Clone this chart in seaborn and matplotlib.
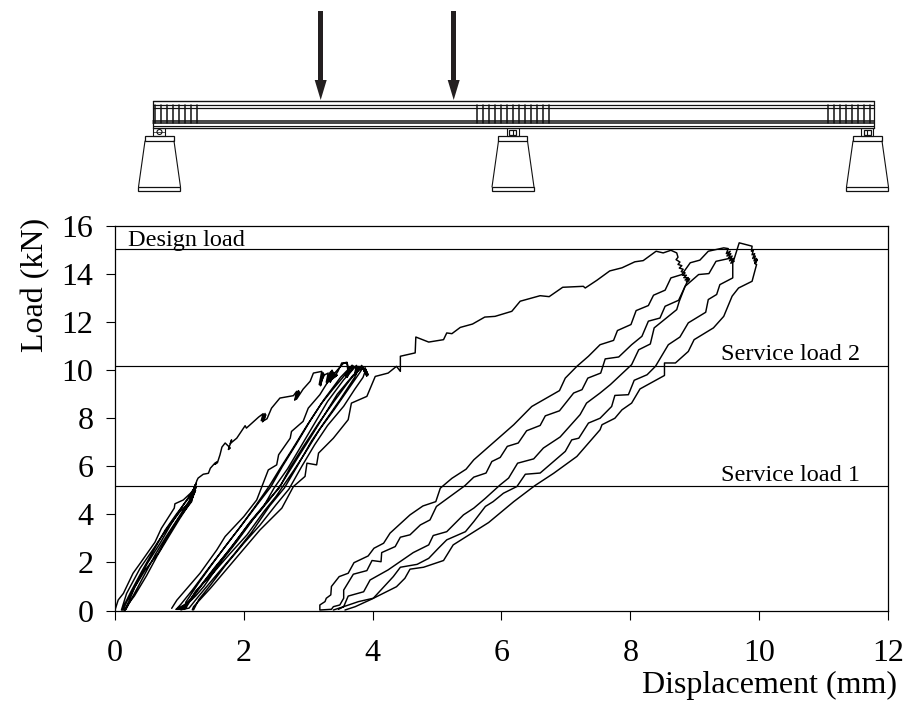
import pandas as pd
import seaborn as sns
import matplotlib.pyplot as plt
from matplotlib.patches import Polygon, Rectangle, Circle

# first cycles up to service load 1, then the ramp to service load 2
cycle1_x = [0.00, 0.05, 0.13, 0.28, 0.39, 0.62, 0.72, 0.92, 0.93, 1.06, 1.18, 1.22, 1.19, 1.24, 1.21, 1.26, 1.20, 1.25, 1.19,
            1.01, 0.83, 0.67, 0.62, 0.44, 0.39, 0.18, 0.10,
            0.16, 0.31, 0.47, 0.67, 0.83, 1.01, 1.19, 1.23, 1.18, 1.24,
            1.05, 0.86, 0.70, 0.50, 0.33, 0.19, 0.13,
            0.12, 0.25, 0.42, 0.60, 0.78, 0.95, 1.12, 1.20, 1.24, 1.19, 1.26,
            1.17, 1.00, 0.84, 0.66, 0.49, 0.30, 0.20, 0.15,
            0.17, 0.28, 0.45, 0.63, 0.80, 0.98, 1.15, 1.22, 1.18, 1.25, 1.21, 1.27]
cycle1_y = [0.02, 0.44, 0.71, 1.55, 1.96, 2.84, 3.42, 4.26, 4.44, 4.60, 4.90, 5.05, 4.75, 5.10, 4.80, 5.15, 4.70, 5.00, 4.60,
            4.12, 3.49, 2.87, 2.66, 1.96, 1.76, 0.71, 0.02,
            0.02, 0.99, 1.69, 2.38, 3.15, 3.91, 4.53, 5.00, 4.65, 5.10,
            4.35, 3.55, 2.80, 1.95, 1.10, 0.40, 0.05,
            0.10, 0.80, 1.65, 2.50, 3.35, 4.00, 4.60, 4.85, 5.20, 4.80, 5.30,
            4.50, 3.80, 3.10, 2.30, 1.45, 0.60, 0.25, 0.03,
            0.05, 0.60, 1.45, 2.35, 3.10, 3.85, 4.55, 5.00, 4.70, 5.25, 4.85, 5.40]
ramp1_x = [1.29, 1.37, 1.45, 1.48, 1.55, 1.58, 1.55, 1.59, 1.63, 1.66, 1.71, 1.79, 1.76, 1.81, 1.79, 1.89, 2.02, 2.04, 2.23, 2.30, 2.27,
           2.33, 2.29, 2.34, 2.31, 2.36, 2.43, 2.56, 2.77, 2.82, 2.79, 2.85, 2.80, 2.86, 2.82, 2.92, 3.03, 3.08, 3.21, 3.17, 3.23, 3.19, 3.24,
           3.18, 3.25, 3.31, 3.28, 3.35, 3.29, 3.37, 3.30, 3.38, 3.33, 3.40, 3.34, 3.41, 3.36, 3.45, 3.40, 3.46, 3.52, 3.60, 3.62, 3.58, 3.64, 3.60,
           3.65, 3.61, 3.63]
ramp1_y = [5.51, 5.67, 5.71, 5.92, 6.13, 6.18, 6.08, 6.15, 6.48, 6.80, 6.97, 6.76, 6.70, 7.10, 6.95, 7.17, 7.69, 7.59, 8.05, 8.19, 7.90,
           8.20, 7.85, 8.15, 7.90, 7.98, 8.42, 8.84, 8.94, 9.12, 8.75, 9.15, 8.78, 9.10, 8.80, 9.21, 9.54, 9.88, 9.95, 9.40, 9.90, 9.35, 9.85,
           9.40, 9.80, 9.88, 9.50, 9.95, 9.45, 10.00, 9.50, 9.95, 9.55, 9.90, 9.50, 9.85, 9.60, 9.80, 9.70, 9.95, 10.30, 10.30, 9.88, 9.75, 10.00, 9.70,
           9.95, 9.75, 10.05]

# reloading group between 1 and 4 mm
cycle2_a_x = [3.60, 3.55, 3.34, 3.18, 3.00, 2.92, 2.74, 2.72, 2.54, 2.51, 2.38, 2.28, 2.20, 2.00, 1.71, 1.58, 1.32, 0.96, 0.88]
cycle2_a_y = [10.33, 10.30, 9.67, 8.98, 8.42, 7.87, 7.45, 7.17, 6.48, 6.06, 5.85, 5.16, 4.60, 3.91, 3.08, 2.52, 1.55, 0.43, 0.09]
cycle2_b_x = [0.95, 1.12, 1.35, 1.55, 1.80, 2.05, 2.30, 2.47, 2.68, 2.88, 3.10, 3.30, 3.55, 3.75, 3.72, 3.78, 3.73, 3.77]
cycle2_b_y = [0.05, 0.30, 1.10, 1.80, 2.60, 3.50, 4.30, 5.10, 5.90, 6.80, 7.80, 8.70, 9.60, 10.20, 9.85, 10.15, 9.80, 10.05]
cycle2_c_x = [3.68, 3.60, 3.38, 3.20, 2.98, 2.75, 2.56, 2.40, 2.18, 1.95, 1.68, 1.45, 1.20, 1.02, 0.95]
cycle2_c_y = [10.20, 9.90, 9.20, 8.60, 7.70, 6.70, 5.90, 5.20, 4.35, 3.50, 2.55, 1.75, 0.85, 0.25, 0.05]
cycle2_d_x = [1.08, 1.10, 1.30, 1.50, 1.72, 1.98, 2.22, 2.42, 2.60, 2.82, 3.02, 3.25, 3.50, 3.68, 3.65, 3.70]
cycle2_d_y = [0.05, 0.35, 1.15, 1.90, 2.70, 3.60, 4.45, 5.15, 6.00, 6.95, 7.85, 8.80, 9.70, 10.20, 9.90, 10.15]
cycle2_e_x = [3.80, 3.72, 3.50, 3.28, 3.05, 2.85, 2.63, 2.40, 2.12, 1.85, 1.55, 1.30, 1.15, 1.02]
cycle2_e_y = [10.15, 9.70, 8.80, 7.95, 7.05, 6.10, 5.10, 4.35, 3.25, 2.35, 1.40, 0.60, 0.10, 0.03]
cycle2_f_x = [1.00, 1.18, 1.40, 1.62, 1.85, 2.10, 2.35, 2.55, 2.72, 2.93, 3.15, 3.40, 3.62, 3.83, 3.88, 3.84, 3.91, 3.86, 3.92, 3.88, 3.93, 3.89]
cycle2_f_y = [0.05, 0.45, 1.25, 2.00, 2.80, 3.70, 4.50, 5.10, 5.95, 6.85, 7.75, 8.70, 9.50, 10.20, 9.90, 10.15, 9.75, 10.05, 9.85, 10.10, 9.80, 10.00]
cycle2_g_x = [3.85, 3.72, 3.55, 3.30, 3.10, 2.90, 2.70, 2.50, 2.25, 2.00, 1.72, 1.48, 1.30, 1.22]
cycle2_g_y = [9.70, 9.20, 8.50, 7.70, 6.90, 6.00, 5.05, 4.40, 3.55, 2.80, 1.90, 1.05, 0.45, 0.03]
cycle2_i_x = [1.05, 1.25, 1.38, 1.65, 1.90, 2.16, 2.38, 2.58, 2.80, 3.00, 3.22, 3.45, 3.70, 3.86]
cycle2_i_y = [0.08, 0.60, 1.00, 2.05, 2.90, 3.85, 4.55, 5.25, 6.20, 7.05, 8.00, 9.00, 9.80, 10.15]
cycle2_j_x = [3.80, 3.58, 3.40, 3.18, 2.95, 2.78, 2.50, 2.32, 2.05, 1.78, 1.52, 1.25, 1.10]
cycle2_j_y = [9.90, 9.05, 8.35, 7.55, 6.55, 5.85, 4.75, 4.15, 3.15, 2.35, 1.55, 0.80, 0.10]
cycle2_h_x = [1.20, 1.22, 1.48, 1.92, 2.25, 2.59, 2.77, 2.95, 2.98, 3.13, 3.16, 3.39, 3.62]
cycle2_h_y = [0.03, 0.16, 0.92, 2.31, 3.35, 4.26, 5.16, 5.58, 6.13, 6.06, 6.55, 7.17, 7.94]

# long ramp from service load 2 to the design load
ramp2_x = [3.67, 3.91, 4.04, 4.24, 4.37, 4.43, 4.43, 4.66, 4.67, 4.87, 5.10, 5.15, 5.23, 5.36, 5.55, 5.74, 5.90, 6.16, 6.29,
           6.60, 6.74, 6.95, 7.27, 7.30, 7.48, 7.68, 7.87, 8.07, 8.20, 8.40, 8.51, 8.63, 8.72, 8.74, 8.71, 8.77, 8.74, 8.80, 8.76, 8.82, 8.79, 8.85, 8.81, 8.87, 8.83, 8.90, 8.85, 8.92, 8.87, 8.91, 8.90]
ramp2_y = [8.63, 8.91, 9.74, 9.88, 10.16, 9.95, 10.58, 10.72, 11.38, 11.17, 11.27, 11.55, 11.52, 11.78, 11.92, 12.21, 12.24, 12.45, 12.87,
           13.10, 13.06, 13.45, 13.49, 13.42, 13.74, 14.13, 14.26, 14.51, 14.56, 14.95, 14.88, 14.99, 14.88, 14.70, 14.60, 14.50, 14.40, 14.35, 14.25, 14.20, 14.10, 14.05, 13.95, 13.95, 13.85, 13.85, 13.75, 13.80, 13.68, 13.72, 13.77]

# reloading group above 3 mm
cycle3_a_x = [8.90, 8.85, 8.75, 8.54, 8.46, 8.28, 8.18, 8.02, 7.82, 7.61, 7.54, 7.34, 7.25, 7.12, 6.90, 6.68, 6.60, 6.39, 6.26, 6.09, 5.98, 5.85, 5.76, 5.57, 5.43,
              4.99, 4.89, 4.74, 4.58, 4.43, 4.35, 4.14, 4.13, 3.99, 3.91, 3.70, 3.55, 3.55, 3.49, 3.39, 3.36]
cycle3_a_y = [13.77, 13.49, 12.91, 12.66, 12.17, 12.04, 11.41, 11.06, 10.55, 10.47, 9.88, 9.67, 9.19, 9.05, 8.31, 8.10, 7.70, 7.48, 6.97, 6.83, 6.37, 6.20, 5.72, 5.55, 5.19,
              4.33, 3.77, 3.56, 3.15, 3.05, 2.66, 2.41, 2.03, 2.08, 1.66, 1.51, 0.85, 0.51, 0.23, 0.16, 0.05]
cycle3_b_x = [3.18, 3.18, 3.26, 3.28, 3.35, 3.36, 3.48, 3.62, 3.71, 3.93, 4.02, 4.17, 4.27, 4.58, 4.78, 4.98, 5.05, 5.23, 5.45, 5.57, 6.19, 6.47, 6.90, 6.99, 7.17, 7.35, 7.53,
              7.74, 7.80, 8.01, 8.09, 8.28, 8.36, 8.54, 8.63, 8.80, 8.93, 9.08, 9.21, 9.45, 9.52, 9.49, 9.55, 9.50, 9.56, 9.52, 9.58, 9.54, 9.60, 9.56, 9.61]
cycle3_b_y = [0.02, 0.23, 0.37, 0.51, 0.65, 1.00, 1.41, 1.55, 1.99, 2.27, 2.59, 2.80, 3.22, 3.98, 4.35, 4.53, 5.09, 5.50, 5.88, 6.27, 7.73, 8.49, 9.15, 9.67, 10.16, 10.58, 11.06,
              11.24, 11.65, 11.90, 12.48, 12.69, 13.12, 13.33, 13.84, 13.98, 14.47, 14.58, 14.95, 15.09, 15.06, 14.85, 14.95, 14.75, 14.85, 14.65, 14.75, 14.55, 14.65, 14.45, 14.53]
cycle3_c_x = [3.47, 3.55, 3.62, 3.86, 3.96, 4.24, 4.63, 4.87, 4.94, 5.15, 5.41, 5.57, 5.75, 5.98, 6.11, 6.25, 6.50, 6.65, 6.91, 7.22, 7.32, 7.53,
              7.69, 8.02, 8.13, 8.31, 8.37, 8.72, 8.76, 8.85, 9.06, 9.22, 9.33, 9.57]
cycle3_c_y = [0.05, 0.16, 0.60, 0.78, 1.27, 1.69, 2.41, 2.73, 3.12, 3.28, 3.98, 4.26, 4.67, 5.23, 5.51, 6.13, 6.31, 6.76, 7.22, 8.15, 8.63, 9.05,
              9.40, 10.23, 10.85, 11.09, 11.76, 12.52, 12.87, 13.49, 13.98, 14.02, 14.53, 14.67]
cycle3_d_x = [9.59, 9.59, 9.39, 9.34, 9.21, 9.17, 8.90, 8.77, 8.59, 8.39, 8.26, 8.06, 7.97, 7.76, 7.71, 7.53, 7.35, 7.20, 7.09, 6.99, 6.60, 6.37, 6.24, 6.03, 5.87, 5.75,
              5.57, 5.44, 5.15, 5.02, 4.87, 4.69, 4.43, 4.32, 4.01, 3.78, 3.55, 3.39]
cycle3_d_y = [14.53, 13.84, 13.56, 13.15, 12.94, 12.41, 11.97, 11.38, 11.06, 10.16, 9.81, 9.58, 8.98, 8.95, 8.49, 8.00, 7.80, 7.17, 7.10, 6.62, 5.72, 5.67, 5.16, 4.88, 4.53, 4.33,
              3.70, 3.28, 2.94, 2.59, 2.17, 1.92, 1.80, 1.41, 0.51, 0.37, 0.16, 0.02]
cycle3_e_x = [9.60, 9.69, 9.89, 9.88, 9.91, 9.89, 9.93, 9.90, 9.94, 9.92, 9.96, 9.93, 9.97, 9.94, 9.96, 9.89, 9.68, 9.58, 9.45, 9.29, 8.99, 8.90, 8.70, 8.53, 8.53, 8.15, 8.02, 7.87, 7.76, 7.56, 7.53,
              7.17, 6.81, 6.52, 6.19, 5.80, 5.25, 5.10, 4.79, 4.58, 4.50, 4.37, 3.99, 3.73, 3.57]
cycle3_e_y = [14.53, 15.30, 15.16, 14.95, 15.00, 14.80, 14.85, 14.65, 14.75, 14.55, 14.65, 14.45, 14.60, 14.42, 14.40, 13.70, 13.42, 13.08, 12.24, 11.76, 11.27, 10.78, 10.30, 10.30, 9.78, 9.22, 8.63, 8.35, 8.00, 7.73, 7.52,
              6.41, 5.71, 5.20, 4.53, 3.66, 2.73, 2.08, 1.80, 1.72, 1.34, 0.99, 0.48, 0.16, 0.02]

ref_loads = [15.05, 10.17, 5.19]
ref_labels = ['Design load', 'Service load 2', 'Service load 1']
ref_label_x = [0.2, 9.41, 9.41]
ref_label_y = [15.16, 10.43, 5.37]
x_ticks = [0, 2, 4, 6, 8, 10, 12]
y_ticks = [0, 2, 4, 6, 8, 10, 12, 14, 16]

sns.set_style('ticks')
plt.rcParams['font.family'] = ['Liberation Serif', 'DejaVu Serif']
plt.rcParams['text.color'] = 'black'
plt.rcParams['axes.labelcolor'] = 'black'
plt.rcParams['xtick.labelcolor'] = 'black'
plt.rcParams['ytick.labelcolor'] = 'black'
plt.rcParams['axes.edgecolor'] = 'black'


def beam_schematic(fig):
    # the test set-up above the chart, drawn in pixel coordinates
    bx = fig.add_axes([0, 0, 1, 1])
    bx.set_xlim(0, 904)
    bx.set_ylim(706, 0)
    bx.axis('off')
    for y, w in [(101, 1.0), (105, 0.9), (108, 0.9), (120.7, 1.1), (123, 1.1), (126, 0.8), (127.7, 1.0)]:
        bx.plot([153, 874], [y, y], color='#111111', lw=w)
    bx.plot([153, 153], [101, 128], color='#111111', lw=0.9)
    bx.plot([874, 874], [101, 128], color='#111111', lw=0.9)
    stirrups = [155 + 6 * i for i in range(8)] + [477 + 6 * i for i in range(13)] + [828 + 6 * i for i in range(8)]
    for x in stirrups:
        bx.plot([x, x], [105, 123], color='#111111', lw=1.1)
    for x in (320.7, 453.7):
        bx.add_patch(Rectangle((x - 2.4, 11), 4.8, 70, color='#231f20', lw=0))
        bx.add_patch(Polygon([(x - 6, 80), (x + 6, 80), (x, 100)], color='#231f20', lw=0))
    for cx, bearing in [(159.5, 'roller'), (513, 'box'), (867.5, 'box')]:
        bx.add_patch(Rectangle((cx - 14.5, 136), 29, 5, fill=False, ec='#111111', lw=0.9))
        bx.plot([cx - 14.5, cx - 21], [141, 187], color='#111111', lw=0.8)
        bx.plot([cx + 14.5, cx + 21], [141, 187], color='#111111', lw=0.8)
        bx.add_patch(Rectangle((cx - 21, 187), 42, 4, fill=False, ec='#111111', lw=0.9))
        bx.plot([cx - 6, cx - 6], [128, 136], color='#111111', lw=0.8)
        bx.plot([cx + 6, cx + 6], [128, 136], color='#111111', lw=0.8)
        bx.plot([cx - 6, cx + 6], [135.5, 135.5], color='#111111', lw=0.8)
        if bearing == 'roller':
            bx.add_patch(Circle((cx, 132), 2.5, fill=False, ec='#111111', lw=0.8))
            bx.plot([cx - 6, cx + 6], [132, 132], color='#111111', lw=0.5)
        else:
            bx.add_patch(Rectangle((cx - 3.5, 129.5), 7, 5, fill=False, ec='#111111', lw=0.9))
            bx.plot([cx, cx], [129.5, 134.5], color='#111111', lw=0.8)


paths = [
    ('cycle1', cycle1_x + ramp1_x + cycle2_a_x, cycle1_y + ramp1_y + cycle2_a_y),
    ('cycle2', cycle2_b_x + cycle2_c_x + cycle2_d_x + cycle2_e_x + cycle2_i_x + cycle2_j_x + cycle2_f_x + cycle2_g_x + cycle2_h_x + ramp2_x,
     cycle2_b_y + cycle2_c_y + cycle2_d_y + cycle2_e_y + cycle2_i_y + cycle2_j_y + cycle2_f_y + cycle2_g_y + cycle2_h_y + ramp2_y),
    ('cycle3', cycle3_a_x + cycle3_b_x + cycle3_e_x, cycle3_a_y + cycle3_b_y + cycle3_e_y),
    ('cycle3c', cycle3_c_x + cycle3_d_x, cycle3_c_y + cycle3_d_y),
]
frames = [pd.DataFrame({'path': name, 'disp': xs, 'load': ys}) for name, xs, ys in paths]
df = pd.concat(frames, ignore_index=True)

fig = plt.figure(figsize=(9.04, 7.06), dpi=100)
beam_schematic(fig)

ax = fig.add_axes([115 / 904, (706 - 610.5) / 706, 773 / 904, 384.5 / 706])
ax.patch.set_alpha(0)
sns.lineplot(data=df, x='disp', y='load', units='path', estimator=None, sort=False,
             color='black', lw=1.05, legend=False, ax=ax)

for load, label, lx, ly in zip(ref_loads, ref_labels, ref_label_x, ref_label_y):
    ax.axhline(load, color='black', lw=0.85)
    ax.text(lx, ly, label, fontsize=17.5, va='baseline', ha='left')

ax.set_xlim(0, 12)
ax.set_ylim(0, 16)
ax.set_xticks(x_ticks)
ax.set_yticks(y_ticks)
ax.tick_params(axis='x', length=6.5, width=0.8, labelsize=23, pad=14, color='black')
ax.tick_params(axis='y', length=6.5, width=0.8, labelsize=23, pad=9, color='black')
ax.set_xlabel('Displacement (mm)', fontsize=23, ha='right', x=1.011, labelpad=2)
ax.set_ylabel('Load (kN)', fontsize=23, labelpad=8, y=0.847)
for s in ax.spines.values():
    s.set_visible(True)
    s.set_linewidth(0.9)

plt.savefig('out.png', dpi=100)
